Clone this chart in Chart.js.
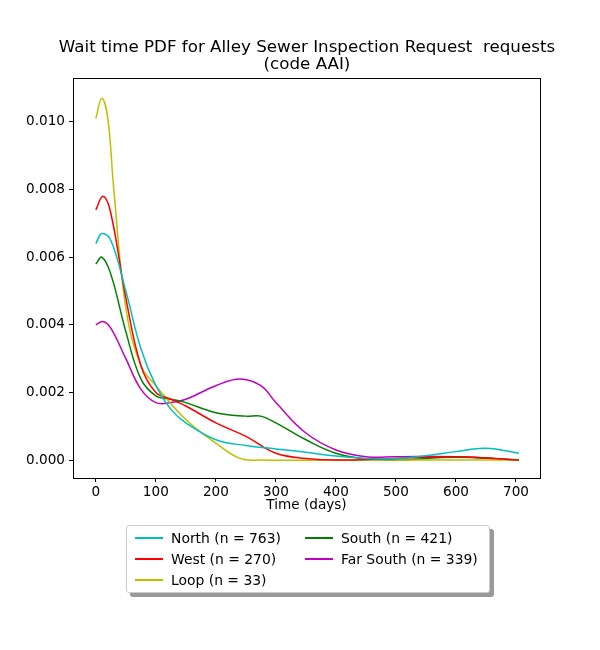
<!DOCTYPE html>
<html><head><meta charset="utf-8">
<script src="https://cdn.jsdelivr.net/npm/chart.js@4"></script>
<style>
body{margin:0;background:#fff;font-family:"DejaVu Sans",sans-serif;}
#wrap{position:relative;width:600px;height:650px;}
#title{position:absolute;top:38px;left:0;width:614px;text-align:center;font-size:16.7px;line-height:17px;color:#000;}
#legend{position:absolute;left:126px;top:525px;width:362px;height:66px;border:1px solid #ccc;border-radius:3px;background:#fff;box-shadow:4px 4px 0 #999;font-size:13.9px;}
.it{position:absolute;display:flex;align-items:center;}
.ln{width:28px;height:2px;margin-right:8px;}
</style></head><body>
<div id="wrap">
<div id="title">Wait time PDF for Alley Sewer Inspection Request&nbsp; requests<br>(code AAI)</div>
<canvas id="c" width="600" height="650"></canvas>
<div id="legend"></div>
</div>
<script>
const labels=["North (n = 763)","West (n = 270)","Loop (n = 33)","South (n = 421)","Far South (n = 339)"];
const colors=["#00bfbf","#ff0000","#bfbf00","#008000","#bf00bf"];
const northX=[0,10,25,50,75,100,125,150,200,250,300,350,400,450,500,550,600,650,705];
const northY=[0.0064,0.0067,0.0065,0.0050,0.0033,0.0022,0.0015,0.0011,0.0006,0.00043,0.00033,0.00023,0.00012,0.00005,0.00005,0.00013,0.00025,0.00035,0.0002];
const westX=[0,12,25,50,75,100,125,150,200,250,300,350,400,500,600,705];
const westY=[0.0074,0.0078,0.0073,0.0048,0.0028,0.0020,0.0018,0.0016,0.0011,0.0007,0.0002,0.00005,0.0,0.00005,0.0001,0.0];
const loopX=[0,10,20,30,50,75,100,150,200,240,275,400,550,705];
const loopY=[0.0101,0.0107,0.0101,0.0080,0.0045,0.0028,0.0022,0.0012,0.0005,0.00005,0,0,0,0];
const southX=[0,10,25,50,75,100,125,150,200,250,275,300,350,400,450,500,600,705];
const southY=[0.0058,0.0060,0.0055,0.0038,0.0024,0.0019,0.0018,0.0017,0.0014,0.0013,0.0013,0.0011,0.0006,0.0002,0.00003,0.0,0.00008,0.0];
const farX=[0,12,25,50,75,100,125,150,200,240,275,300,350,400,450,500,600,705];
const farY=[0.0040,0.0041,0.0039,0.0030,0.0021,0.0017,0.0017,0.0018,0.0022,0.0024,0.0022,0.0017,0.0008,0.0003,0.0001,0.0001,0.0001,0.0];
const xs=[northX,westX,loopX,southX,farX], ys=[northY,westY,loopY,southY,farY];
const datasets=labels.map((l,i)=>({label:l,data:xs[i].map((x,j)=>({x:x,y:ys[i][j]})),borderColor:colors[i],borderWidth:1.5,pointRadius:0,tension:0.4,fill:false}));
const frame={id:'frame',afterDraw(c){const a=c.chartArea,g=c.ctx;g.save();g.strokeStyle='#000';g.lineWidth=1;g.strokeRect(a.left+0.5,a.top+0.5,a.right-a.left,a.bottom-a.top);g.restore();}};
const tickFont={family:'DejaVu Sans',size:13.6};
new Chart(document.getElementById('c'),{type:'line',data:{datasets},plugins:[frame],
options:{responsive:false,animation:false,layout:{padding:{left:0,right:60,top:78,bottom:132}},
plugins:{legend:{display:false},tooltip:{enabled:false}},
scales:{x:{type:'linear',min:-38,max:740,afterFit(s){s.height=40;},
 afterBuildTicks(s){s.ticks=[0,100,200,300,400,500,600,700].map(v=>({value:v}));},
 ticks:{color:'#000',font:tickFont,padding:2,callback:v=>v},
 grid:{drawOnChartArea:false,tickLength:4,color:'#000'},border:{color:'#000'},
 title:{display:true,text:'Time (days)',color:'#000',font:tickFont,padding:{top:0}}},
 y:{min:-0.00053,max:0.0113,afterFit(s){s.width=73;},
 afterBuildTicks(s){s.ticks=[0,0.002,0.004,0.006,0.008,0.010].map(v=>({value:v}));},
 ticks:{color:'#000',font:tickFont,padding:4,callback:v=>v.toFixed(3)},
 grid:{drawOnChartArea:false,tickLength:4,color:'#000'},border:{color:'#000'}}}}});
const lg=document.getElementById('legend');
const pos=[[8,4],[8,25],[8,46],[178,4],[178,25]];
labels.forEach((l,i)=>{const d=document.createElement('div');d.className='it';d.style.left=pos[i][0]+'px';d.style.top=pos[i][1]+'px';
d.innerHTML='<span class="ln" style="background:'+colors[i]+'"></span>'+l;lg.appendChild(d);});
</script>
</body></html>
